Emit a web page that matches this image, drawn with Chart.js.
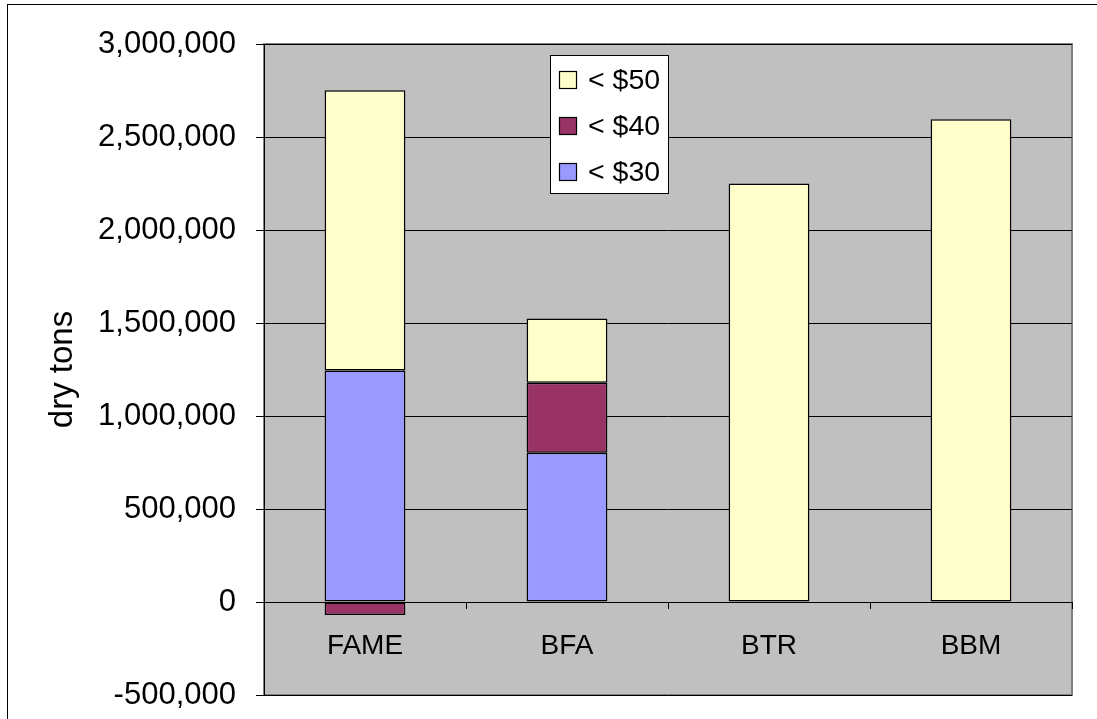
<!DOCTYPE html>
<html>
<head>
<meta charset="utf-8">
<script src="https://cdn.jsdelivr.net/npm/chart.js@4/dist/chart.umd.min.js"></script>
<style>
  html, body { margin: 0; padding: 0; background: #ffffff; }
  #wrap { width: 1097px; height: 719px; position: relative; }
</style>
</head>
<body>
<div id="wrap"><canvas id="costChart" width="1097" height="719"></canvas></div>
<script>
// categories and stacked series (dry tons)
const categories = ["FAME", "BFA", "BTR", "BBM"];
const under30 = [1245000, 802000, 0, 0];
const under40 = [-70000, 377000, 0, 0];
const under50 = [1506000, 345000, 2250000, 2595000];
const seriesLabels = ["< $30", "< $40", "< $50"];
const seriesColors = ["#9999FF", "#993366", "#FFFFCC"];
const yTicks = [-500000, 0, 500000, 1000000, 1500000, 2000000, 2500000, 3000000];

const FONT = "'Liberation Sans', Arial, sans-serif";
Chart.defaults.font.family = FONT;
Chart.defaults.color = "#000000";

// gray plot background + outer frame
const plotBackground = {
    id: "plotBackground",
    beforeDraw(chart) {
        const { ctx, chartArea: a } = chart;
        ctx.save();
        ctx.fillStyle = "#FFFFFF";
        ctx.fillRect(0, 0, chart.width, chart.height);
        ctx.strokeStyle = "#000000";
        ctx.lineWidth = 1;
        ctx.strokeRect(7.5, 4.5, chart.width + 20, chart.height + 20);
        ctx.fillStyle = "#C0C0C0";
        ctx.fillRect(a.left, a.top, a.right - a.left, a.bottom - a.top);
        ctx.strokeStyle = "#808080";
        ctx.lineWidth = 2;
        ctx.strokeRect(a.left, a.top, a.right - a.left, a.bottom - a.top);
        ctx.restore();
    }
};

// legend box drawn inside the plot, in reverse series order like the original
const innerLegend = {
    id: "innerLegend",
    afterDraw(chart) {
        const { ctx, chartArea: a } = chart;
        const x = a.left + 286, y = a.top + 11, w = 118, h = 138;
        ctx.save();
        ctx.fillStyle = "#FFFFFF";
        ctx.fillRect(x, y, w, h);
        ctx.strokeStyle = "#000000";
        ctx.lineWidth = 1;
        ctx.strokeRect(x + 0.5, y + 0.5, w, h);
        ctx.font = "28.5px " + FONT;
        ctx.textBaseline = "middle";
        const order = chart.data.datasets.map((d, i) => i).reverse();
        order.forEach((di, row) => {
            const ds = chart.data.datasets[di];
            const cy = y + 25 + row * 46;
            ctx.fillStyle = ds.backgroundColor;
            ctx.fillRect(x + 9, cy - 9, 18, 18);
            ctx.strokeStyle = "#000000";
            ctx.lineWidth = 1.2;
            ctx.strokeRect(x + 9.5, cy - 8.5, 17, 17);
            ctx.fillStyle = "#000000";
            ctx.fillText(ds.label, x + 38, cy + 1);
        });
        ctx.restore();
    }
};

const ctx = document.getElementById("costChart").getContext("2d");
const costChart = new Chart(ctx, {
    type: "bar",
    data: {
        labels: categories,
        datasets: [under30, under40, under50].map((vals, i) => ({
            label: seriesLabels[i],
            data: vals,
            backgroundColor: seriesColors[i],
            borderColor: "#000000",
            borderWidth: 1.5,
            borderSkipped: false,
            categoryPercentage: 1,
            barPercentage: 0.4
        }))
    },
    options: {
        responsive: false,
        animation: false,
        layout: { padding: { top: 44, right: 25, bottom: 24, left: 0 } },
        plugins: {
            legend: { display: false },
            tooltip: { enabled: false }
        },
        scales: {
            x: {
                stacked: true,
                position: { y: 0 },
                grid: {
                    offset: true,
                    drawOnChartArea: false,
                    drawTicks: true,
                    tickLength: 6,
                    color: "#000000"
                },
                border: { display: true, color: "#000000", width: 1 },
                ticks: { font: { size: 28 }, padding: 21, color: "#000000" },
                afterFit(scale) {
                    scale.paddingTop = 0;
                    scale.paddingBottom = 0;
                }
            },
            y: {
                stacked: true,
                min: -500000,
                max: 3000000,
                afterBuildTicks(scale) {
                    scale.ticks = yTicks.map(v => ({ value: v }));
                },
                afterFit(scale) {
                    scale.width = 264;
                    scale.paddingTop = 0;
                    scale.paddingBottom = 0;
                },
                grid: { color: "#000000", tickLength: 8, lineWidth: 1 },
                border: { display: true, color: "#000000", width: 1 },
                ticks: {
                    font: { size: 31 },
                    padding: 20,
                    color: "#000000",
                    callback: v => v.toLocaleString("en-US")
                },
                title: {
                    display: true,
                    text: "dry tons",
                    font: { size: 33 },
                    color: "#000000",
                    padding: { top: 43, bottom: 0 }
                }
            }
        }
    },
    plugins: [plotBackground, innerLegend]
});
</script>
</body>
</html>
